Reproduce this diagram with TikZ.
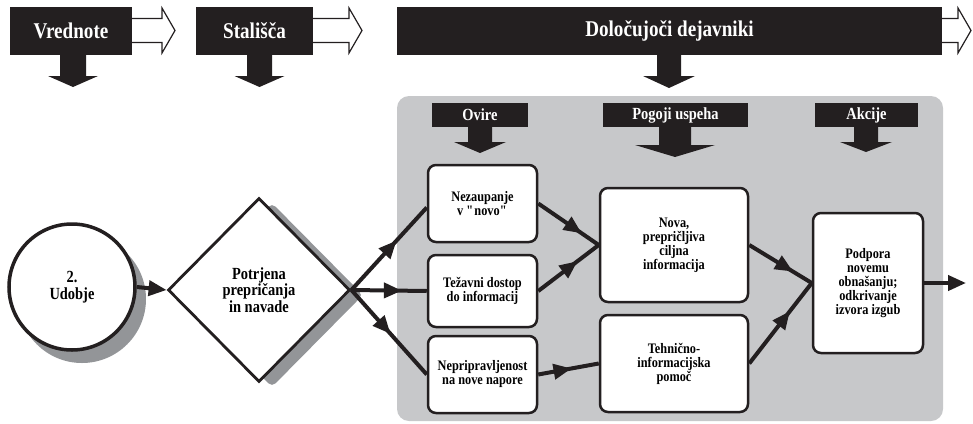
\documentclass[tikz,border=0pt]{standalone}
\usepackage{fontspec}
\setmainfont{Liberation Serif}[FakeStretch=0.85]
\usetikzlibrary{arrows.meta,decorations.markings,shapes.geometric}
\definecolor{blk}{HTML}{231F20}
\definecolor{bgg}{HTML}{C7C8CA}
\definecolor{shd}{HTML}{939598}
% cx, ytop, ybase, ytip, shaft half width, head half width
\newcommand\dnarr[6]{%
  \fill[blk] (#1-#5,#2) -- (#1+#5,#2) -- (#1+#5,#3) -- (#1+#6,#3) -- (#1,#4) -- (#1-#6,#3) -- (#1-#5,#3) -- cycle;}
% x start, x head base, x tip, y centre
\newcommand\rtarr[4]{%
  \filldraw[fill=white, draw=blk, line width=1.2pt, line join=miter] (#1,#4-12) -- (#2,#4-12) -- (#2,#4-22.5) -- (#3,#4) -- (#2,#4+22.5) -- (#2,#4+12) -- (#1,#4+12);}
\tikzset{
  hdr/.style={fill=blk, text=white, inner sep=0pt, font=\bfseries\fontsize{22.5}{24}\selectfont},
  subhdr/.style={fill=blk, text=white, inner sep=0pt, minimum height=24pt, font=\bfseries\fontsize{17}{18}\selectfont},
  box/.style={draw=blk, line width=2.5pt, rounded corners=8pt, fill=white, align=center, inner sep=2pt,
              font=\bfseries\fontsize{14.5}{14}\selectfont},
  big/.style={align=center, font=\bfseries\fontsize{17}{16.7}\selectfont},
  conn/.style={draw=blk, line width=4pt},
  tipa/.style={-{Triangle[length=18pt,width=15pt]}},
  midarr/.style={postaction={decorate}, decoration={markings, mark=at position #1 with {\arrow{Triangle[length=18pt,width=15pt]}}}}
}
\begin{document}
\begin{tikzpicture}[x=1pt,y=-1pt]
\useasboundingbox (0,0) rectangle (973,423);
% top headers
\node[hdr, minimum width=122pt, minimum height=48pt] (h1) at (71,31) {Vrednote};
\node[hdr, minimum width=117pt, minimum height=48pt] (h2) at (254.5,31) {Stališča};
\node[hdr, minimum width=545pt, minimum height=48pt] (h3) at (669.5,31) {Določujoči dejavniki};
\rtarr{132}{162}{175}{30.5}
\rtarr{313}{349}{362}{30.5}
\rtarr{942}{958}{971}{30.5}
\dnarr{73}{55}{76}{87}{13}{25}
\dnarr{259.5}{55}{76}{87}{12.5}{25}
\dnarr{669}{55}{76}{88}{12}{26}
% grey panel
\fill[bgg, rounded corners=12pt] (397,96) rectangle (943,421);
\node[subhdr, minimum width=96pt] (s1) at (480,115) {Ovire};
\node[subhdr, minimum width=145pt] (s2) at (675.5,115) {Pogoji uspeha};
\node[subhdr, minimum width=103pt] (s3) at (866.5,115) {Akcije};
\dnarr{480}{127}{142}{153}{12}{26}
\dnarr{675}{127}{145}{157}{16}{40}
\dnarr{866}{127}{142}{152}{12}{26}
% circle and diamond with shadows
\fill[shd] (82,299) circle (64pt);
\node[circle, draw=blk, line width=3.5pt, fill=white, minimum size=126pt, inner sep=0pt, big] (c) at (72,287) {2.\\Udobje};
\node[diamond, fill=shd, minimum width=182pt, minimum height=184pt, inner sep=0pt, rounded corners=5pt] (dsh) at (272,295) {};
\node[diamond, draw=blk, line width=2.8pt, fill=white, minimum width=182pt, minimum height=184pt, inner sep=0pt, big] (d) at (259,290) {Potrjena\\prepričanja\\in navade};
% boxes
\node[box, minimum width=109pt, minimum height=77pt] (n1) at (482.5,203.5) {Nezaupanje\\v \textquotedbl novo\textquotedbl};
\node[box, minimum width=109pt, minimum height=72pt] (n2) at (482.5,291) {Težavni dostop\\do informacij};
\node[box, minimum width=109pt, minimum height=77pt] (n3) at (482.5,374.5) {Nepripravljenost\\na nove napore};
\node[box, minimum width=148pt, minimum height=114pt] (n4) at (674,245) {Nova,\\prepričljiva\\ciljna\\informacija};
\node[box, minimum width=148pt, minimum height=97pt] (n5) at (674,363.5) {Tehnično-\\informacijska\\pomoč};
\node[box, minimum width=110pt, minimum height=140pt] (n6) at (868,283) {Podpora\\novemu\\obnašanju;\\odkrivanje\\izvora izgub};
\coordinate (out) at (966,283);
% connectors
\draw[conn, tipa] (c.east) -- (d.west);
\draw[conn, midarr=0.6] (d.east) -- ([yshift=-4pt]n1.west);
\draw[conn, midarr=0.67] (d.east) -- (n2.west);
\draw[conn, midarr=0.52] (d.east) -- (n3.west);
\draw[conn, midarr=0.72] (n1.east) -- (n4.west);
\draw[conn, midarr=0.65] (n2.east) -- (n4.west);
\draw[conn, midarr=0.55] (n3.east) -- (n5.west);
\draw[conn, midarr=0.7] (n4.east) -- (n6.west);
\draw[conn, midarr=0.65] (n5.east) -- (n6.west);
\draw[conn, tipa] (n6.east) -- (out);
\end{tikzpicture}
\end{document}
